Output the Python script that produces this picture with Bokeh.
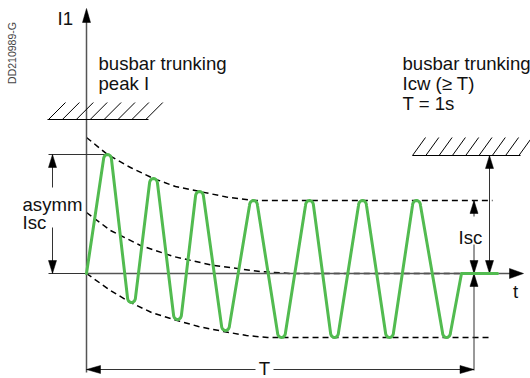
import numpy as np
from bokeh.plotting import figure
from bokeh.models import Range1d
from bokeh.core.properties import value
from bokeh.embed import file_html
from bokeh.resources import INLINE

# ---- data (diagram units, origin at axis crossing) ----
peak_x = [21, 67, 113, 167, 223, 276, 330]
peak_y = [119, 95, 82, 73, 73, 73, 73]
trough_x = [45, 91, 139, 195, 248, 303, 360]
trough_y = [-29, -46, -57, -64, -64, -64, -64]
wave_end_x = [375, 411]

upper_x = [0, 21, 44, 67, 89, 113, 140, 167, 194, 406]
upper_y = [136, 119, 106, 95, 87, 82, 76.5, 73, 73, 73]
mid_x = [0, 24, 54, 87, 127, 174, 204, 406]
mid_y = [61, 43, 28, 17, 8, 2, 0, 0]
lower_x = [0, 24, 44, 65, 87, 112, 137, 160, 181, 406]
lower_y = [0, -17, -29, -39, -46, -53, -58, -62, -64, -64]

asym_peak = 119     # first (asymmetric) peak level
isc_level = 73      # steady Isc amplitude
icw_level = 118     # Icw hatch level
peak_limit = 154    # peak I hatch level
T_end = 387.5       # time T

GREEN = "#52bb50"
FONT = value("Liberation Sans")
FS = "18.6px"

p = figure(width=530, height=378, output_backend="svg", toolbar_location=None,
           x_range=Range1d(-86, 444), y_range=Range1d(-105, 273),
           x_axis_type=None, y_axis_type=None, min_border=0)
p.outline_line_color = None
p.grid.visible = False

# ---- envelopes ----
for xs, ys in [(upper_x, upper_y), (mid_x, mid_y), (lower_x, lower_y)]:
    p.line(xs, ys, line_color="black", line_width=1.5, line_dash="6 4")

# ---- axes ----
AX = "#555555"
p.line([0, 0], [-99, 252], line_color=AX, line_width=1.5)
p.line([0, 424], [0, 0], line_color=AX, line_width=1.5)

heads_x, heads_y = [], []
def head(x, y, dx, dy, L=13, w=4):
    bx, by = x - dx * L, y - dy * L
    px, py = -dy, dx
    heads_x.append([x, bx + px * w, bx - px * w])
    heads_y.append([y, by + py * w, by - py * w])

head(0, 265, 0, 1, L=14, w=4)       # y axis
head(437, 0, 1, 0, L=14, w=5)       # t axis

DIM = "#333333"
# asymm Isc dimension
p.line([-38, 19], [asym_peak, asym_peak], line_color=DIM, line_width=1)
p.line([-38, 0], [0, 0], line_color=DIM, line_width=1)
p.line([-34, -34], [asym_peak, 86], line_color=DIM, line_width=1)
p.line([-34, -34], [46, 0], line_color=DIM, line_width=1)
head(-34, asym_peak, 0, 1)
head(-34, 0, 0, -1)

# Isc dimension (right)
p.line([T_end, T_end], [isc_level, 57], line_color=DIM, line_width=1)
p.line([T_end, T_end], [29, 0], line_color=DIM, line_width=1)
p.line([T_end, T_end], [0, -97], line_color=DIM, line_width=1)
head(T_end, isc_level, 0, 1)
head(T_end, 0, 0, -1)
head(T_end, 0, 0, 1)

# Icw dimension
p.line([403, 403], [icw_level, 0], line_color=DIM, line_width=1)
head(403, icw_level, 0, 1)
head(403, 0, 0, -1)

# T dimension
TY = -96
p.line([0, 169], [TY, TY], line_color=DIM, line_width=1)
p.line([187, T_end], [TY, TY], line_color=DIM, line_width=1)
head(0, TY, -1, 0, L=14, w=4)
head(T_end, TY, 1, 0, L=14, w=4)

p.patches(heads_x, heads_y, fill_color="black", line_color="black", line_width=0.5)

# ---- hatches ----
p.line([-39, 62], [peak_limit, peak_limit], line_color="black", line_width=1.2)
hx0 = [-38 + 13.9 * k for k in range(8)]
p.segment(x0=hx0, y0=[peak_limit] * 8, x1=[x + 17 for x in hx0], y1=[peak_limit + 17] * 8,
          line_color="black", line_width=1)
p.line([326, 434], [icw_level, icw_level], line_color="black", line_width=1.2)
rx0 = [326 + 13.3 * k for k in range(9)]
p.segment(x0=rx0, y0=[icw_level] * 9, x1=[x + 13 for x in rx0], y1=[icw_level + 18] * 9,
          line_color="black", line_width=1)

# ---- green current wave ----
r, h = 4.0, 5.0
th = np.linspace(np.pi, 0, 11)
wx, wy = [0.0], [0.0]
for px_, py_, tx_, ty_ in zip(peak_x, peak_y, trough_x, trough_y):
    wx += list(px_ + r * np.cos(th)); wy += list(py_ - h + h * np.sin(th))
    wx += list(tx_ + r * np.cos(th)); wy += list(ty_ + h - h * np.sin(th))
wx += wave_end_x; wy += [0, 0]
p.line(wx, wy, line_color=GREEN, line_width=3, line_join="round", line_cap="round")

# ---- texts ----
def txt(x, y, s, size=FS, align="left", baseline="alphabetic", angle=0, color="#111111"):
    p.text(x=[x], y=[y], text=[s], text_font=FONT, text_font_size=value(size),
           text_align=align, text_baseline=baseline, angle=angle, text_color=color)

txt(-75, 220.5, "DD210989-G", size="10.5px", align="center", baseline="middle",
    angle=np.pi / 2, color="#444444")
txt(-29, 255, "I1")
txt(12, 210, "busbar trunking")
txt(12, 190.5, "peak I")
txt(316, 210, "busbar trunking")
txt(316, 190, "Icw (\u2265 T)")
txt(316, 170, "T = 1s")
txt(-64, 69, "asymm")
txt(-64, 51, "Isc")
txt(372, 36, "Isc")
txt(429, -18, "t", align="center", baseline="middle")
txt(178, TY + 1, "T", align="center", baseline="middle")

open("out.html", "w").write(file_html(p, INLINE))
